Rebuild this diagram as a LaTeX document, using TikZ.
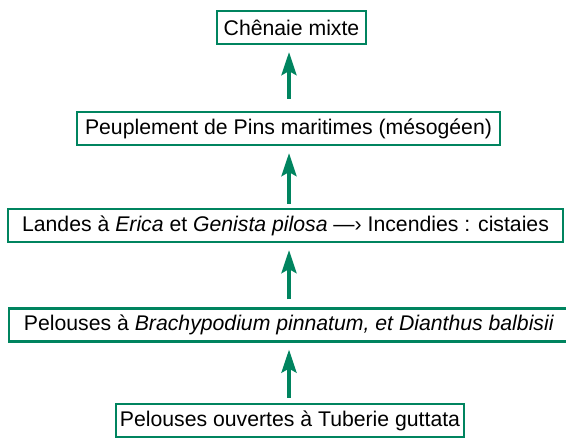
\documentclass[tikz,border=0pt]{standalone}
\usepackage{fontspec}
\setmainfont{Liberation Sans}
\usetikzlibrary{arrows.meta,calc}
\definecolor{serie}{RGB}{0,132,95}
\tikzset{
  stade/.style={rectangle,draw=serie,line width=2.2bp,fill=white,inner xsep=4bp,inner ysep=0bp,
                minimum height=33bp,font=\fontsize{21.3}{24}\selectfont,text=black},
  flow/.style={-{Stealth[length=23bp,width=15bp,inset=4bp]},draw=serie,line width=3.8bp,
               shorten >=7bp},
}
\begin{document}
\begin{tikzpicture}[x=1bp,y=-1bp]
  \useasboundingbox (0,0) rectangle (566,440);
  % ---- stades de la serie ----
  \node[stade,minimum width=149bp] (chen) at (291.5,27.5) {Chênaie mixte};
  \node[stade,minimum width=423bp] (peup) at (288.5,128.5) {Peuplement de Pins maritimes (mésogéen)};
  \node[stade,minimum width=555bp] (land) at (285.5,225.5) {Landes à \textit{Erica} et \textit{Genista pilosa} —› Incendies : cistaies};
  \node[stade,minimum width=560bp] (brach) at (289,325) {Pelouses à \textit{Brachypodium pinnatum, et Dianthus balbisii}};
  \node[stade,minimum width=344bp] (pel) at (290,420.5) {Pelouses ouvertes à Tuberie guttata};
  % ---- dynamique ----
  \draw[flow,shorten <=12bp] (peup.north -| 289,0) -- (chen.south -| 289,0);
  \draw[flow,shorten <=4bp] (land.north -| 289,0) -- (peup.south -| 289,0);
  \draw[flow,shorten <=8bp] (brach.north -| 289,0) -- (land.south -| 289,0);
  \draw[flow,shorten <=5bp] (pel.north -| 289,0) -- (brach.south -| 289,0);
\end{tikzpicture}
\end{document}
